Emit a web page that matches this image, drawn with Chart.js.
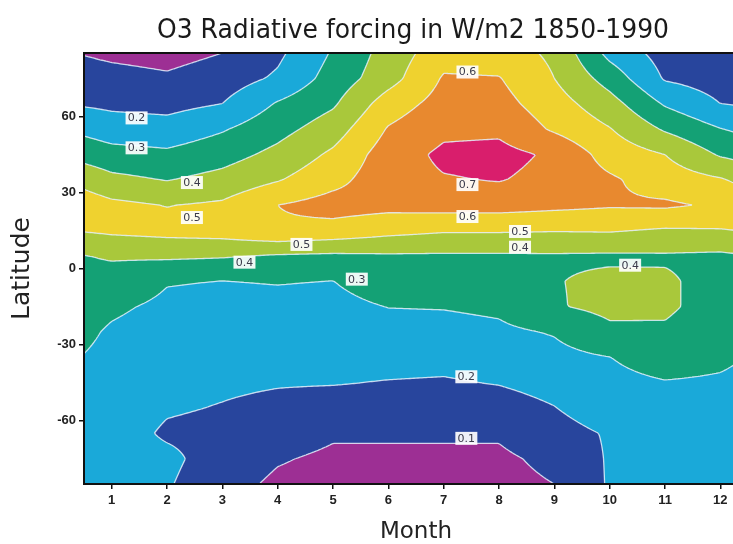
<!DOCTYPE html>
<html>
<head>
<meta charset="utf-8">
<script src="https://cdn.jsdelivr.net/npm/chart.js@4.4.1/dist/chart.umd.min.js"></script>
<style>
  html, body { margin: 0; padding: 0; background: #fff; overflow: hidden; }
  #wrap { width: 733px; height: 544px; overflow: hidden; }
  canvas { display: block; }
</style>
</head>
<body>
<div id="wrap"><canvas id="myChart" width="760" height="544"></canvas></div>
<script>
// months on the x axis, latitudes (north to south) on the y axis
const months = [1, 2, 3, 4, 5, 6, 7, 8, 9, 10, 11, 12];
const latitudes = [85, 75, 65, 55, 45, 35, 25, 15, 5, -5, -15, -25, -35, -45, -55, -65, -75, -85];

// O3 radiative forcing (W/m2) per month, one value per latitude above
const jan = [0.08, 0.133, 0.179, 0.249, 0.336, 0.426, 0.523, 0.518, 0.411, 0.359, 0.314, 0.29, 0.28, 0.27, 0.26, 0.25, 0.245, 0.24];
const feb = [0.065, 0.114, 0.169, 0.238, 0.319, 0.396, 0.497, 0.532, 0.417, 0.305, 0.283, 0.265, 0.247, 0.229, 0.211, 0.185, 0.225, 0.21];
const mar = [0.1, 0.15, 0.2, 0.291, 0.36, 0.433, 0.516, 0.544, 0.409, 0.299, 0.278, 0.257, 0.236, 0.216, 0.195, 0.17, 0.15, 0.13];
const apr = [0.18, 0.215, 0.309, 0.366, 0.427, 0.493, 0.6, 0.585, 0.391, 0.304, 0.278, 0.254, 0.231, 0.207, 0.176, 0.141, 0.107, 0.085];
const may = [0.31, 0.34, 0.386, 0.452, 0.518, 0.569, 0.64, 0.565, 0.383, 0.299, 0.275, 0.252, 0.228, 0.205, 0.16, 0.11, 0.085, 0.07];
const jun = [0.44, 0.46, 0.549, 0.608, 0.65, 0.66, 0.63, 0.53, 0.389, 0.346, 0.302, 0.267, 0.232, 0.196, 0.153, 0.11, 0.085, 0.07];
const jul = [0.56, 0.61, 0.639, 0.678, 0.72, 0.693, 0.64, 0.51, 0.388, 0.346, 0.305, 0.267, 0.229, 0.191, 0.15, 0.11, 0.085, 0.07];
const aug = [0.55, 0.605, 0.636, 0.681, 0.73, 0.705, 0.64, 0.51, 0.388, 0.353, 0.318, 0.281, 0.243, 0.205, 0.158, 0.11, 0.085, 0.075];
const sep = [0.48, 0.5, 0.543, 0.586, 0.685, 0.67, 0.625, 0.505, 0.39, 0.396, 0.392, 0.307, 0.272, 0.234, 0.197, 0.16, 0.12, 0.1];
const oct = [0.27, 0.359, 0.439, 0.505, 0.558, 0.615, 0.61, 0.508, 0.387, 0.417, 0.425, 0.38, 0.299, 0.28, 0.26, 0.21, 0.21, 0.21];
const nov = [0.16, 0.19, 0.289, 0.388, 0.5, 0.55, 0.615, 0.489, 0.39, 0.412, 0.418, 0.385, 0.335, 0.296, 0.27, 0.26, 0.25, 0.24];
const dec = [0.11, 0.155, 0.2, 0.303, 0.389, 0.51, 0.585, 0.494, 0.383, 0.37, 0.355, 0.34, 0.315, 0.29, 0.275, 0.265, 0.26, 0.255];
const forcingByMonth = [jan, feb, mar, apr, may, jun, jul, aug, sep, oct, nov, dec];

// contour levels and fill colours (one more colour than levels)
const levels = [0.1, 0.2, 0.3, 0.4, 0.5, 0.6, 0.7];
const bandColors = ['#9d2f94', '#28459d', '#1aa9d9', '#14a175', '#a9c83b', '#efd22f', '#e8892f', '#d91e6c'];
const yTicks = [-60, -30, 0, 30, 60];

// labels placed on the contour lines (month, latitude)
const contourLabels = [
  { month: 1.45, lat: 59.4, text: '0.2' },
  { month: 1.45, lat: 47.6, text: '0.3' },
  { month: 2.45, lat: 33.9, text: '0.4' },
  { month: 2.45, lat: 20.1, text: '0.5' },
  { month: 3.4, lat: 2.5, text: '0.4' },
  { month: 4.43, lat: 9.5, text: '0.5' },
  { month: 5.43, lat: -4.2, text: '0.3' },
  { month: 7.43, lat: 77.5, text: '0.6' },
  { month: 7.43, lat: 33.1, text: '0.7' },
  { month: 7.43, lat: 20.5, text: '0.6' },
  { month: 8.38, lat: 14.6, text: '0.5' },
  { month: 8.38, lat: 8.4, text: '0.4' },
  { month: 10.37, lat: 1.3, text: '0.4' },
  { month: 7.41, lat: -42.7, text: '0.2' },
  { month: 7.41, lat: -67, text: '0.1' }
];

// value at any month/latitude: linear between neighbouring months (wrapping Dec->Jan) and latitudes
function valueAt(m, lat) {
  let f = (m - 1) % 12;
  if (f < 0) f += 12;
  const i0 = Math.floor(f), t = f - i0, i1 = (i0 + 1) % 12;
  let r = (latitudes[0] - lat) / 10;
  r = Math.max(0, Math.min(latitudes.length - 1, r));
  const j0 = Math.min(Math.floor(r), latitudes.length - 2), u = r - j0;
  const a = forcingByMonth[i0], b = forcingByMonth[i1];
  const top = a[j0] * (1 - t) + b[j0] * t;
  const bot = a[j0 + 1] * (1 - t) + b[j0 + 1] * t;
  return top * (1 - u) + bot * u;
}

function bandOf(v) {
  let k = 0;
  while (k < levels.length && v >= levels[k]) k++;
  return k;
}

function hexToRgb(h) {
  return [parseInt(h.substr(1, 2), 16), parseInt(h.substr(3, 2), 16), parseInt(h.substr(5, 2), 16)];
}

const contourPlugin = {
  id: 'contour',
  beforeDatasetsDraw(chart) {
    const { ctx, chartArea: a, scales: { x, y } } = chart;
    const w = Math.round(a.right - a.left), h = Math.round(a.bottom - a.top);

    // filled bands
    const off = document.createElement('canvas');
    off.width = w; off.height = h;
    const octx = off.getContext('2d');
    const img = octx.createImageData(w, h);
    const rgb = bandColors.map(hexToRgb);
    const colMonth = [];
    for (let px = 0; px < w; px++) colMonth.push(x.getValueForPixel(a.left + px + 0.5));
    for (let py = 0; py < h; py++) {
      const lat = y.getValueForPixel(a.top + py + 0.5);
      for (let px = 0; px < w; px++) {
        const c = rgb[bandOf(valueAt(colMonth[px], lat))];
        const o = (py * w + px) * 4;
        img.data[o] = c[0]; img.data[o + 1] = c[1]; img.data[o + 2] = c[2]; img.data[o + 3] = 255;
      }
    }
    octx.putImageData(img, 0, 0);
    ctx.drawImage(off, a.left, a.top);

    // contour lines (marching squares on a fine pixel grid)
    const s = 2;
    const nx = Math.ceil(w / s) + 1, ny = Math.ceil(h / s) + 1;
    const g = new Float64Array(nx * ny);
    for (let j = 0; j < ny; j++) {
      const lat = y.getValueForPixel(a.top + j * s);
      for (let i = 0; i < nx; i++) g[j * nx + i] = valueAt(x.getValueForPixel(a.left + i * s), lat);
    }
    const cases = {
      1: [[3, 2]], 2: [[2, 1]], 3: [[3, 1]], 4: [[0, 1]], 5: [[3, 0], [1, 2]], 6: [[0, 2]], 7: [[0, 3]],
      8: [[0, 3]], 9: [[0, 2]], 10: [[0, 1], [2, 3]], 11: [[0, 1]], 12: [[3, 1]], 13: [[1, 2]], 14: [[2, 3]]
    };
    ctx.save();
    ctx.beginPath();
    ctx.rect(a.left, a.top, w, h);
    ctx.clip();
    ctx.strokeStyle = 'rgba(228,240,250,0.85)';
    ctx.lineWidth = 1.3;
    ctx.lineJoin = 'round';
    levels.forEach(L => {
      ctx.beginPath();
      for (let j = 0; j < ny - 1; j++) {
        for (let i = 0; i < nx - 1; i++) {
          const tl = g[j * nx + i], tr = g[j * nx + i + 1], br = g[(j + 1) * nx + i + 1], bl = g[(j + 1) * nx + i];
          const idx = (tl >= L ? 8 : 0) | (tr >= L ? 4 : 0) | (br >= L ? 2 : 0) | (bl >= L ? 1 : 0);
          if (idx === 0 || idx === 15) continue;
          const x0 = a.left + i * s, y0 = a.top + j * s;
          const pt = e => {
            if (e === 0) return [x0 + s * (L - tl) / (tr - tl), y0];
            if (e === 1) return [x0 + s, y0 + s * (L - tr) / (br - tr)];
            if (e === 2) return [x0 + s * (L - bl) / (br - bl), y0 + s];
            return [x0, y0 + s * (L - tl) / (bl - tl)];
          };
          cases[idx].forEach(([e1, e2]) => {
            const p = pt(e1), q = pt(e2);
            ctx.moveTo(p[0], p[1]);
            ctx.lineTo(q[0], q[1]);
          });
        }
      }
      ctx.stroke();
    });

    // contour labels
    ctx.font = '11px "DejaVu Sans"';
    ctx.textAlign = 'center';
    ctx.textBaseline = 'middle';
    contourLabels.forEach(l => {
      const px = x.getPixelForValue(l.month), py = y.getPixelForValue(l.lat);
      ctx.fillStyle = 'rgba(255,255,255,0.92)';
      ctx.fillRect(px - 11, py - 6.5, 22, 13);
      ctx.fillStyle = '#3a3a4a';
      ctx.fillText(l.text, px, py + 0.5);
    });
    ctx.restore();
  },
  afterDraw(chart) {
    const { ctx, chartArea: a } = chart;
    ctx.save();
    ctx.strokeStyle = '#111';
    ctx.lineWidth = 2;
    ctx.strokeRect(a.left, a.top, a.right - a.left, a.bottom - a.top);
    // title centred over the plot
    ctx.fillStyle = '#1a1a1a';
    ctx.font = '26px "DejaVu Sans"';
    ctx.textAlign = 'center';
    ctx.textBaseline = 'middle';
    const title = 'O3 Radiative forcing in W/m2 1850-1990';
    const tw = ctx.measureText(title).width;
    const cx = (a.left + a.right) / 2 - 3;
    ctx.translate(cx, 31);
    ctx.scale(512 / tw, 1);
    ctx.fillText(title, 0, 0);
    ctx.restore();
  }
};

new Chart(document.getElementById('myChart'), {
  type: 'scatter',
  data: { datasets: [{ data: [], showLine: false }] },
  options: {
    responsive: false,
    animation: false,
    events: [],
    layout: { padding: { top: 53, right: 12, bottom: 0, left: 0 } },
    plugins: {
      legend: { display: false },
      tooltip: { enabled: false },
      title: { display: false }
    },
    scales: {
      x: {
        type: 'linear',
        min: 0.5,
        max: 12.5,
        afterBuildTicks: s => { s.ticks = months.map(v => ({ value: v })); },
        afterFit: s => { s.height = 60; },
        grid: { drawOnChartArea: false, drawTicks: true, tickLength: 5, color: '#111', lineWidth: 1.5 },
        border: { display: false },
        ticks: { color: '#222', font: { family: 'Liberation Sans', size: 13, weight: 'bold' }, padding: 4, maxRotation: 0, autoSkip: false },
        title: { display: true, text: 'Month', color: '#222', font: { family: 'DejaVu Sans', size: 23, lineHeight: 1 }, padding: { top: 0, bottom: 0 } }
      },
      y: {
        type: 'linear',
        min: -85,
        max: 85,
        afterBuildTicks: s => { s.ticks = yTicks.map(v => ({ value: v })); },
        afterFit: s => { s.width = 84; },
        grid: { drawOnChartArea: false, drawTicks: true, tickLength: 5, color: '#111', lineWidth: 1.5 },
        border: { display: false },
        ticks: { color: '#222', font: { family: 'Liberation Sans', size: 13, weight: 'bold' }, padding: 3 },
        title: { display: true, text: 'Latitude', color: '#222', font: { family: 'DejaVu Sans', size: 25, lineHeight: 1 }, padding: { top: 10, bottom: 0 } }
      }
    }
  },
  plugins: [contourPlugin]
});
</script>
</body>
</html>
